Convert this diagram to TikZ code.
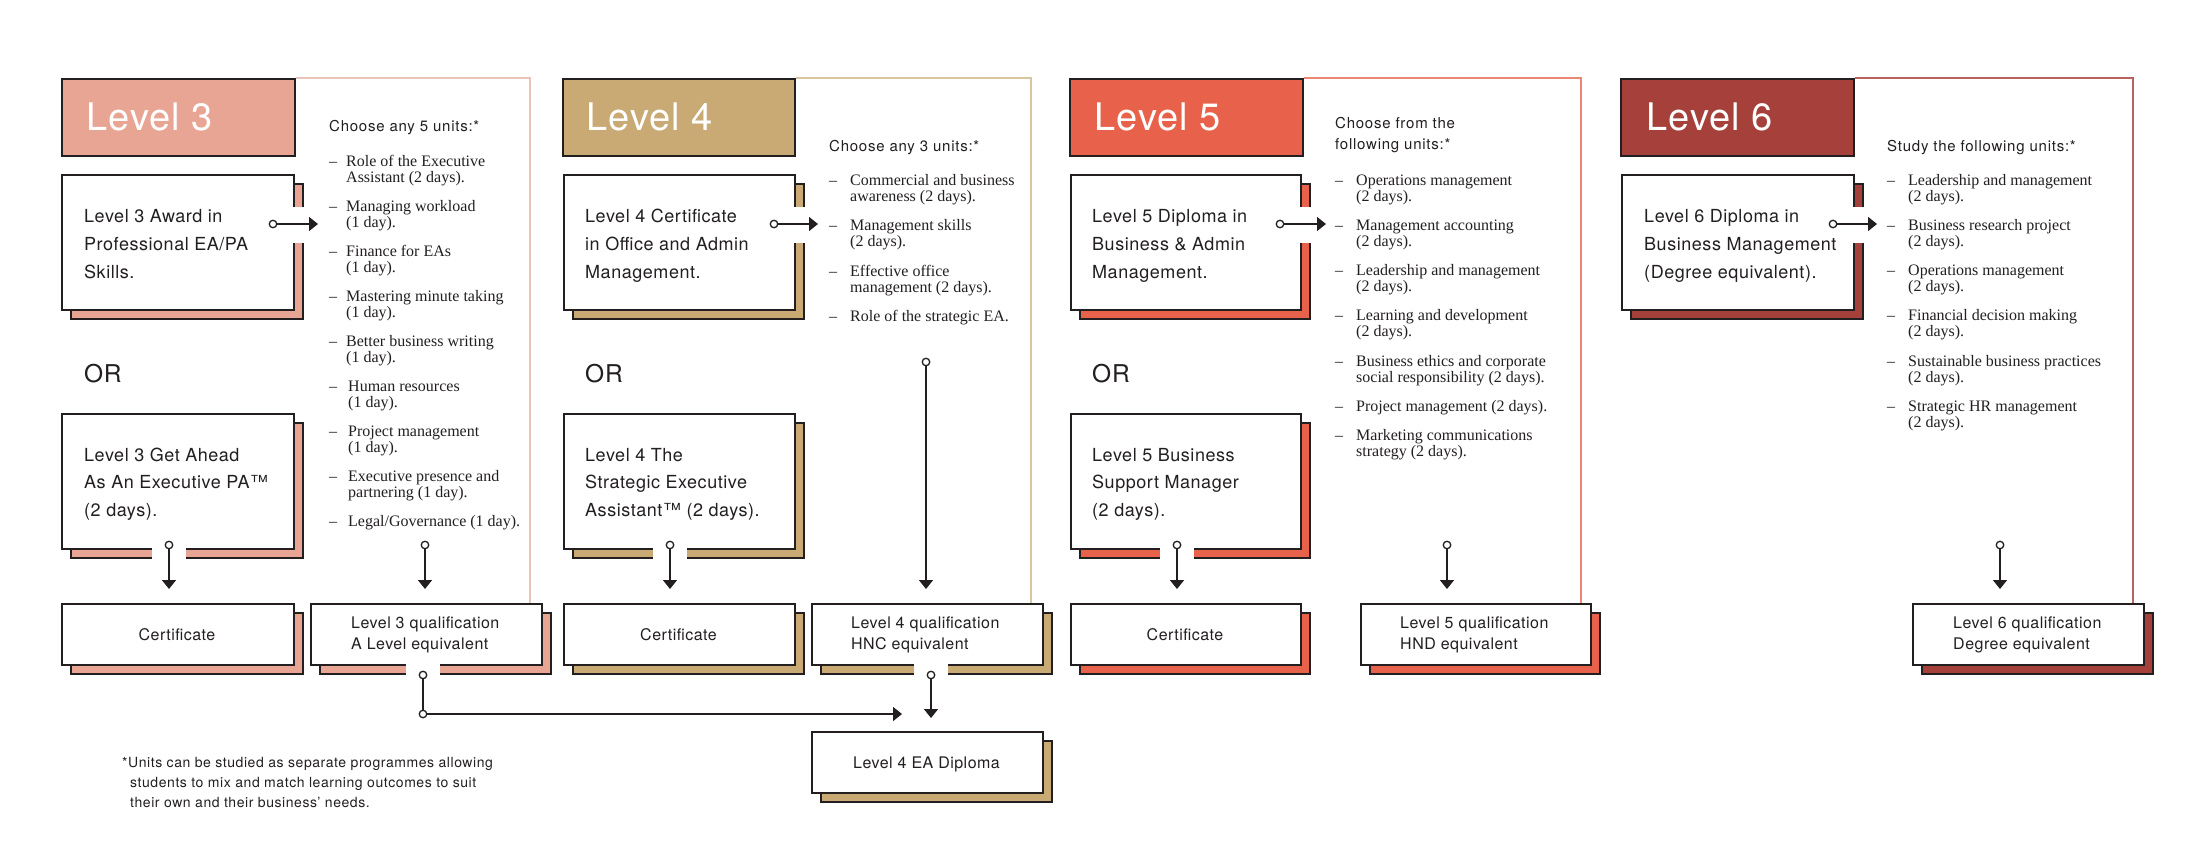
\documentclass[tikz,border=0pt]{standalone}
\usepackage{fontspec}
\setmainfont{Liberation Serif}
\newfontfamily\sansf[LetterSpace=3]{TeX Gyre Heros}
\newfontfamily\sansh[LetterSpace=5]{TeX Gyre Heros}
\newfontfamily\sansn[LetterSpace=4]{TeX Gyre Heros}
\usetikzlibrary{arrows.meta}
\definecolor{ink}{HTML}{231F20}
\definecolor{cthree}{HTML}{E8A594}
\definecolor{cthreel}{HTML}{E8C4BA}
\definecolor{cfour}{HTML}{C9A974}
\definecolor{cfourl}{HTML}{D9C59E}
\definecolor{cfive}{HTML}{E8614A}
\definecolor{cfivel}{HTML}{EC8572}
\definecolor{csix}{HTML}{A5403A}
\definecolor{csixl}{HTML}{B8645D}
\newcommand\fTitle{\sansf\fontsize{38}{38}\selectfont}
\newcommand\fBox{\sansf\fontsize{18}{22}\selectfont}
\newcommand\fOr{\sansf\fontsize{24.5}{30}\selectfont}
\newcommand\fQual{\sansf\fontsize{16}{20}\selectfont}
\newcommand\fHead{\sansh\fontsize{15}{19}\selectfont}
\newcommand\fUnit{\rmfamily\fontsize{16}{16}\selectfont}
\newcommand\fFoot{\sansn\fontsize{14}{18}\selectfont}
\tikzset{
  boxn/.style={draw=ink, line width=1.6pt, fill=white, inner sep=0pt, anchor=north west},
  shad/.style={draw=ink, line width=1.6pt},
  hdr/.style={draw=ink, line width=1.6pt, inner sep=0pt, anchor=north west},
  ring/.style={circle, draw=ink, fill=white, line width=1.3pt, minimum size=7.5pt, inner sep=0pt},
  conn/.style={draw=ink, line width=1.5pt, -{Triangle[length=9pt,width=14pt]}},
  plainline/.style={draw=ink, line width=1.5pt},
  panel/.style={line width=1.5pt},
  titlet/.style={anchor=base west, inner sep=0pt, font=\fTitle, text=white},
  boxt/.style={anchor=base west, inner sep=0pt, font=\fBox, text=ink},
  ort/.style={anchor=base west, inner sep=0pt, font=\fOr, text=ink},
  qualt/.style={anchor=base west, inner sep=0pt, font=\fQual, text=ink},
  qualc/.style={anchor=base, inner sep=0pt, font=\fQual, text=ink},
  headt/.style={anchor=base west, inner sep=0pt, font=\fHead, text=ink},
  unitt/.style={anchor=base west, inner sep=0pt, font=\fUnit, text=ink},
  foott/.style={anchor=base west, inner sep=0pt, font=\fFoot, text=ink},
}
% name, x1, y1, x2, y2, colour
\newcommand\shbox[6]{%
  \path[shad, fill=#6] (#2+10,#3+10) rectangle (#4+10,#5+10);
  \node[boxn, minimum width={(#4-#2)*1pt}, minimum height={(#5-#3)*1pt}] (#1) at (#2,#3) {};
}
\newcommand\rgap[1]{\fill[white] (#1-2,207) rectangle (#1+13,243);}
\newcommand\dgap[2]{\fill[white] (#1-17,#2-2) rectangle (#1+17,#2+13);}
% name, dash x, text x, y, line
\newcommand\unitA[5]{%
  \node[unitt] (#1d) at (#2,#4) {–};
  \node[unitt] (#1) at (#3,#4) {#5};
}
\newcommand\unitB[6]{%
  \node[unitt] (#1d) at (#2,#4) {–};
  \node[unitt] (#1) at (#3,#4) {#5};
  \node[unitt] (#1b) at (#3,#4+16) {#6};
}
\begin{document}
\begin{tikzpicture}[x=1pt,y=-1pt]
\useasboundingbox[fill=white] (0,0) rectangle (2211,867);

% headers
\node[hdr, fill=cthree, minimum width=233pt, minimum height=77pt] (h3) at (61,78) {};
\node[hdr, fill=cfour, minimum width=232pt, minimum height=77pt] (h4) at (562,78) {};
\node[hdr, fill=cfive, minimum width=233pt, minimum height=77pt] (h5) at (1069,78) {};
\node[hdr, fill=csix, minimum width=233pt, minimum height=77pt] (h6) at (1620,78) {};
\node[titlet] (h3t) at (86,130) {Level 3};
\node[titlet] (h4t) at (586,130) {Level 4};
\node[titlet] (h5t) at (1094,130) {Level 5};
\node[titlet] (h6t) at (1646,130) {Level 6};

% panel outlines
\draw[panel, cthreel] (h3.north east) -| (530,603);
\draw[panel, cfourl] (h4.north east) -| (1031,603);
\draw[panel, cfivel] (h5.north east) -| (1581,603);
\draw[panel, csixl] (h6.north east) -| (2133,603);

% ---------- Level 3 ----------
\shbox{b3a}{61}{174}{293}{309}{cthree}
\rgap{293}
\shbox{b3b}{61}{413}{293}{548}{cthree}
\dgap{169}{548}
\shbox{c3}{61}{603}{293}{664}{cthree}
\shbox{q3}{310}{603}{541}{664}{cthree}
\dgap{423}{664}

% ---------- Level 4 ----------
\shbox{b4a}{563}{174}{794}{309}{cfour}
\rgap{794}
\shbox{b4b}{563}{413}{794}{548}{cfour}
\dgap{670}{548}
\shbox{c4}{563}{603}{794}{664}{cfour}
\shbox{q4}{811}{603}{1042}{664}{cfour}
\dgap{931}{664}
\shbox{ea}{811}{731}{1042}{792}{cfour}

% ---------- Level 5 ----------
\shbox{b5a}{1070}{174}{1300}{309}{cfive}
\rgap{1300}
\shbox{b5b}{1070}{413}{1300}{548}{cfive}
\dgap{1177}{548}
\shbox{c5}{1070}{603}{1300}{664}{cfive}
\shbox{q5}{1360}{603}{1590}{664}{cfive}

% ---------- Level 6 ----------
\shbox{b6a}{1621}{174}{1853}{309}{csix}
\rgap{1853}
\shbox{q6}{1912}{603}{2143}{664}{csix}

% ---------- connectors ----------
\node[ring] (r3a) at (273,224) {};
\coordinate (t3a) at (318,224);
\draw[conn] (r3a) -- (t3a);
\node[ring] (r3b) at (169,545) {};
\coordinate (t3b) at (169,589);
\draw[conn] (r3b) -- (t3b);
\node[ring] (r3u) at (425,545) {};
\coordinate (t3u) at (425,589);
\draw[conn] (r3u) -- (t3u);
\node[ring] (r3q) at (423,675) {};
\node[ring] (j3) at (423,714) {};
\coordinate (t34) at (902,714);
\draw[plainline] (r3q) -- (j3);
\draw[conn] (j3) -- (t34);

\node[ring] (r4a) at (774,224) {};
\coordinate (t4a) at (818,224);
\draw[conn] (r4a) -- (t4a);
\node[ring] (r4b) at (670,545) {};
\coordinate (t4b) at (670,589);
\draw[conn] (r4b) -- (t4b);
\node[ring] (r4u) at (926,362) {};
\coordinate (t4u) at (926,589);
\draw[conn] (r4u) -- (t4u);
\node[ring] (r4q) at (931,675) {};
\coordinate (t4q) at (931,718);
\draw[conn] (r4q) -- (t4q);

\node[ring] (r5a) at (1280,224) {};
\coordinate (t5a) at (1326,224);
\draw[conn] (r5a) -- (t5a);
\node[ring] (r5b) at (1177,545) {};
\coordinate (t5b) at (1177,589);
\draw[conn] (r5b) -- (t5b);
\node[ring] (r5u) at (1447,545) {};
\coordinate (t5u) at (1447,589);
\draw[conn] (r5u) -- (t5u);

\node[ring] (r6a) at (1833,224) {};
\coordinate (t6a) at (1877,224);
\draw[conn] (r6a) -- (t6a);
\node[ring] (r6u) at (2000,545) {};
\coordinate (t6u) at (2000,589);
\draw[conn] (r6u) -- (t6u);

% ---------- box texts ----------
\node[boxt] (b3a1) at (84,222) {Level 3 Award in};
\node[boxt] (b3a2) at (84,250) {Professional EA/PA};
\node[boxt] (b3a3) at (84,278) {Skills.};
\node[ort] (or3) at (84,382) {OR};
\node[boxt] (b3b1) at (84,461) {Level 3 Get Ahead};
\node[boxt] (b3b2) at (84,488) {As An Executive PA™};
\node[boxt] (b3b3) at (84,516) {(2 days).};
\node[qualc] (c3t) at (177,640) {Certificate};
\node[qualt] (q3t1) at (351,628) {Level 3 qualification};
\node[qualt] (q3t2) at (351,649) {A Level equivalent};

\node[boxt] (b4a1) at (585,222) {Level 4 Certificate};
\node[boxt] (b4a2) at (585,250) {in Office and Admin};
\node[boxt] (b4a3) at (585,278) {Management.};
\node[ort] (or4) at (585,382) {OR};
\node[boxt] (b4b1) at (585,461) {Level 4 The};
\node[boxt] (b4b2) at (585,488) {Strategic Executive};
\node[boxt] (b4b3) at (585,516) {Assistant™ (2 days).};
\node[qualc] (c4t) at (678.5,640) {Certificate};
\node[qualt] (q4t1) at (851,628) {Level 4 qualification};
\node[qualt] (q4t2) at (851,649) {HNC equivalent};
\node[qualc] (eat) at (926.5,768) {Level 4 EA Diploma};

\node[boxt] (b5a1) at (1092,222) {Level 5 Diploma in};
\node[boxt] (b5a2) at (1092,250) {Business \& Admin};
\node[boxt] (b5a3) at (1092,278) {Management.};
\node[ort] (or5) at (1092,382) {OR};
\node[boxt] (b5b1) at (1092,461) {Level 5 Business};
\node[boxt] (b5b2) at (1092,488) {Support Manager};
\node[boxt] (b5b3) at (1092,516) {(2 days).};
\node[qualc] (c5t) at (1185,640) {Certificate};
\node[qualt] (q5t1) at (1400,628) {Level 5 qualification};
\node[qualt] (q5t2) at (1400,649) {HND equivalent};

\node[boxt] (b6a1) at (1644,222) {Level 6 Diploma in};
\node[boxt] (b6a2) at (1644,250) {Business Management};
\node[boxt] (b6a3) at (1644,278) {(Degree equivalent).};
\node[qualt] (q6t1) at (1953,628) {Level 6 qualification};
\node[qualt] (q6t2) at (1953,649) {Degree equivalent};

% ---------- unit lists ----------
\node[headt] (u3h) at (329,131) {Choose any 5 units:*};
\unitB{u3a}{329}{346}{166}{Role of the Executive}{Assistant (2 days).}
\unitB{u3b}{329}{346}{211}{Managing workload}{(1 day).}
\unitB{u3c}{329}{346}{256}{Finance for EAs}{(1 day).}
\unitB{u3d}{329}{346}{301}{Mastering minute taking}{(1 day).}
\unitB{u3e}{329}{346}{346}{Better business writing}{(1 day).}
\unitB{u3f}{329}{348}{391}{Human resources}{(1 day).}
\unitB{u3g}{329}{348}{436}{Project management}{(1 day).}
\unitB{u3h}{329}{348}{481}{Executive presence and}{partnering (1 day).}
\unitA{u3i}{329}{348}{526}{Legal/Governance (1 day).}

\node[headt] (u4h) at (829,151) {Choose any 3 units:*};
\unitB{u4a}{829}{850}{185}{Commercial and business}{awareness (2 days).}
\unitB{u4b}{829}{850}{230}{Management skills}{(2 days).}
\unitB{u4c}{829}{850}{276}{Effective office}{management (2 days).}
\unitA{u4d}{829}{850}{321}{Role of the strategic EA.}

\node[headt] (u5h) at (1335,128) {Choose from the};
\node[headt] (u5h2) at (1335,149) {following units:*};
\unitB{u5a}{1335}{1356}{185}{Operations management}{(2 days).}
\unitB{u5b}{1335}{1356}{230}{Management accounting}{(2 days).}
\unitB{u5c}{1335}{1356}{275}{Leadership and management}{(2 days).}
\unitB{u5d}{1335}{1356}{320}{Learning and development}{(2 days).}
\unitB{u5e}{1335}{1356}{366}{Business ethics and corporate}{social responsibility (2 days).}
\unitA{u5f}{1335}{1356}{411}{Project management (2 days).}
\unitB{u5g}{1335}{1356}{440}{Marketing communications}{strategy (2 days).}

\node[headt] (u6h) at (1887,151) {Study the following units:*};
\unitB{u6a}{1887}{1908}{185}{Leadership and management}{(2 days).}
\unitB{u6b}{1887}{1908}{230}{Business research project}{(2 days).}
\unitB{u6c}{1887}{1908}{275}{Operations management}{(2 days).}
\unitB{u6d}{1887}{1908}{320}{Financial decision making}{(2 days).}
\unitB{u6e}{1887}{1908}{366}{Sustainable business practices}{(2 days).}
\unitB{u6f}{1887}{1908}{411}{Strategic HR management}{(2 days).}

% ---------- footnote ----------
\node[foott] (fn1) at (122,767) {*Units can be studied as separate programmes allowing};
\node[foott] (fn2) at (130,787) {students to mix and match learning outcomes to suit};
\node[foott] (fn3) at (130,807) {their own and their business’ needs.};
\end{tikzpicture}
\end{document}
